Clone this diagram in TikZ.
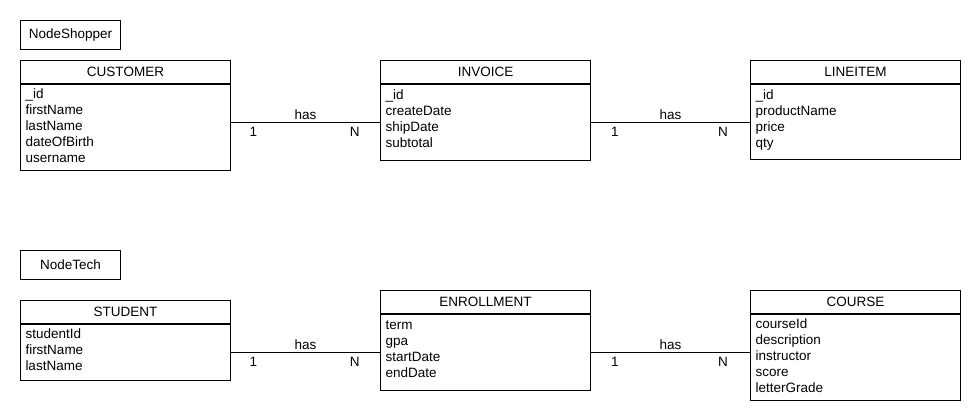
\documentclass[tikz,border=0pt]{standalone}
\usepackage{fontspec}
\setmainfont{Liberation Sans}
\usetikzlibrary{positioning}

\begin{document}
\begin{tikzpicture}[x=1pt,y=-1pt,line width=1pt,
    font=\fontsize{13.5}{16}\selectfont,
    tag/.style={draw,anchor=north west,minimum width=100,minimum height=29,inner sep=0},
    ehead/.style={draw,anchor=north west,minimum width=210,minimum height=23,inner sep=0},
    ebody/.style={draw,text width=200,inner xsep=5,inner ysep=3,align=left,text height=11.2pt},
    lbl/.style={inner sep=0}]
    \useasboundingbox (0,0) rectangle (980,420);

    % NodeShopper
    \node[tag] (shop) at (20,20) {NodeShopper};

    % CUSTOMER table
    \node[ehead] (cust) at (20,60) {CUSTOMER};
    \node[ebody,text depth=68.8pt,below=0pt of cust] (custb)
        {\_id\\firstName\\lastName\\dateOfBirth\\username};

    % INVOICE table
    \node[ehead] (inv) at (380,60) {INVOICE};
    \node[ebody,inner ysep=4,text depth=56.8pt,below=0pt of inv] (invb)
        {\_id\\createDate\\shipDate\\subtotal};

    % LINEITEM table
    \node[ehead] (lin) at (750,60) {LINEITEM};
    \node[ebody,inner ysep=4,text depth=55.8pt,below=0pt of lin] (linb)
        {\_id\\productName\\price\\qty};

    % relations
    \draw (custb.east |- invb.west) -- (invb.west)
        node[lbl,midway,yshift=8pt] {has}
        node[lbl,pos=0.15,yshift=-9pt] {1}
        node[lbl,pos=0.83,yshift=-9pt] {N};
    \draw (invb.east) -- (invb.east -| linb.west)
        node[lbl,midway,yshift=8pt] {has}
        node[lbl,pos=0.15,yshift=-9pt] {1}
        node[lbl,pos=0.83,yshift=-9pt] {N};

    % NodeTech
    \node[tag] (tech) at (20,250) {NodeTech};

    % STUDENT table
    \node[ehead] (stu) at (20,300) {STUDENT};
    \node[ebody,text depth=38.8pt,below=0pt of stu] (stub)
        {studentId\\firstName\\lastName};

    % ENROLLMENT table
    \node[ehead] (enr) at (380,290) {ENROLLMENT};
    \node[ebody,inner ysep=4,text depth=56.8pt,below=0pt of enr] (enrb)
        {term\\gpa\\startDate\\endDate};

    % COURSE table
    \node[ehead] (cou) at (750,290) {COURSE};
    \node[ebody,text depth=68.8pt,below=0pt of cou] (coub)
        {courseId\\description\\instructor\\score\\letterGrade};

    % relations
    \draw (stub.east) -- (enrb.west)
        node[lbl,midway,yshift=8pt] {has}
        node[lbl,pos=0.15,yshift=-9pt] {1}
        node[lbl,pos=0.83,yshift=-9pt] {N};
    \draw (enrb.east) -- (enrb.east -| coub.west)
        node[lbl,midway,yshift=8pt] {has}
        node[lbl,pos=0.15,yshift=-9pt] {1}
        node[lbl,pos=0.83,yshift=-9pt] {N};
\end{tikzpicture}
\end{document}
